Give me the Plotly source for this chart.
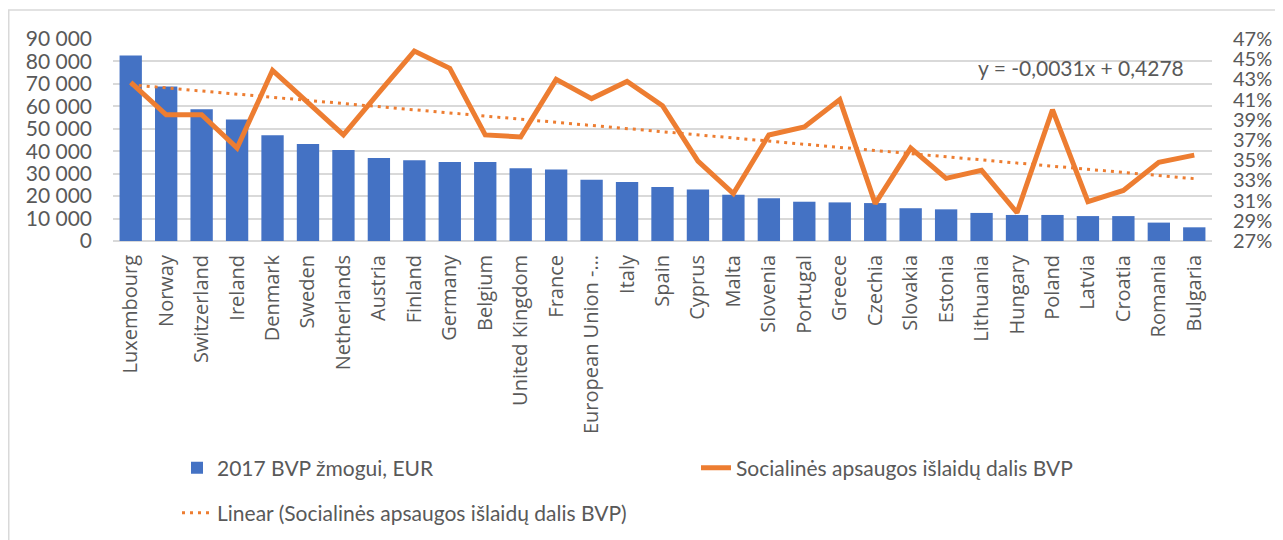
import plotly.graph_objects as go

countries = ["Luxembourg", "Norway", "Switzerland", "Ireland", "Denmark", "Sweden",
             "Netherlands", "Austria", "Finland", "Germany", "Belgium", "United Kingdom",
             "France", "European Union -…", "Italy", "Spain", "Cyprus", "Malta",
             "Slovenia", "Portugal", "Greece", "Czechia", "Slovakia", "Estonia",
             "Lithuania", "Hungary", "Poland", "Latvia", "Croatia", "Romania", "Bulgaria"]

gdp_per_capita = [82600, 68800, 58700, 54100, 47100, 43200, 40500, 37000, 36000, 35200,
                  35200, 32400, 31900, 27300, 26300, 24100, 22900, 20600, 19000, 17500,
                  17200, 16900, 14600, 14100, 12500, 11600, 11600, 11100, 11100, 8200, 6100]

social_share = [0.427, 0.395, 0.395, 0.362, 0.439, 0.407, 0.375, 0.417, 0.458, 0.441,
                0.375, 0.373, 0.430, 0.411, 0.428, 0.404, 0.349, 0.317, 0.375, 0.383,
                0.410, 0.307, 0.362, 0.332, 0.340, 0.298, 0.400, 0.309, 0.320, 0.348, 0.355]

trend_slope = -0.0031
trend_intercept = 0.4278
trend_label = "y = -0,0031x + 0,4278"

left_ticks = [0, 10000, 20000, 30000, 40000, 50000, 60000, 70000, 80000, 90000]
right_ticks = [0.27, 0.29, 0.31, 0.33, 0.35, 0.37, 0.39, 0.41, 0.43, 0.45, 0.47]

trend_values = [trend_slope * (i + 1) + trend_intercept for i in range(len(countries))]

BLUE = "#4472C4"
ORANGE = "#ED7D31"
GREY = "#595959"
GRID = "#D9D9D9"
NUM_FONT = "Lato, Liberation Sans, sans-serif"
CAT_FONT = "Open Sans, sans-serif"

fig = go.Figure()
fig.add_trace(go.Bar(x=countries, y=gdp_per_capita, name="2017 BVP žmogui, EUR",
                     marker=dict(color=BLUE, line=dict(width=0)), legend="legend"))
fig.add_trace(go.Scatter(x=countries, y=social_share, yaxis="y2", mode="lines",
                         name="Socialinės apsaugos išlaidų dalis BVP",
                         line=dict(color=ORANGE, width=5), legend="legend"))
fig.add_trace(go.Scatter(x=countries, y=trend_values, yaxis="y2", mode="lines",
                         name="Linear (Socialinės apsaugos išlaidų dalis BVP)",
                         line=dict(color=ORANGE, width=3, dash="3px,5px"), legend="legend2"))

# page offset (default body margin of the html page)
OFF = 8
W, H = 1283 - OFF, 540 - OFF
# plot area in page pixels
PL, PR, PT, PB = 113, 1212, 39, 241
L = PL - OFF
R = W - (PR - OFF)
T = PT - OFF
B = H - (PB - OFF)
pw, ph = PR - PL, PB - PT

def px_x(x):
    return (x - PL) / pw

def px_y(y):
    return (PB - y) / ph

def cx(x):
    return (x - OFF) / W

def cy(y):
    return 1 - (y - OFF) / H

fig.update_layout(
    width=W, height=H,
    margin=dict(l=L, r=R, t=T, b=B, pad=0, autoexpand=False),
    paper_bgcolor="white", plot_bgcolor="white",
    separators=", ",
    bargap=0.37,
    font=dict(family=NUM_FONT, size=21, color=GREY),
    xaxis=dict(tickangle=-90, tickfont=dict(family=CAT_FONT, size=20, color=GREY),
               showgrid=False, showline=False, ticks="", ticklabelstandoff=9,
               range=[-0.5, len(countries) - 0.5], automargin=False),
    yaxis=dict(range=[0, 90000], tickvals=left_ticks, tickformat=",d",
               showgrid=True, gridcolor=GRID, gridwidth=1.5, zeroline=True,
               zerolinecolor=GRID, zerolinewidth=1.5, showline=False, ticks="",
               ticklabelstandoff=20, tickfont=dict(size=21, color=GREY), automargin=False),
    yaxis2=dict(range=[0.27, 0.47], tickvals=right_ticks, tickformat=".0%",
                overlaying="y", side="right", showgrid=False, zeroline=False,
                showline=False, ticks="", ticklabelstandoff=20,
                tickfont=dict(size=20, color=GREY), automargin=False),
    legend=dict(orientation="h", xref="container", yref="container",
                x=cx(177), y=cy(468), xanchor="left", yanchor="middle",
                entrywidth=474, entrywidthmode="pixels", font=dict(size=21, color=GREY),
                bgcolor="rgba(0,0,0,0)"),
    legend2=dict(orientation="h", xref="container", yref="container",
                 x=cx(177), y=cy(513), xanchor="left", yanchor="middle",
                 font=dict(size=21, color=GREY), bgcolor="rgba(0,0,0,0)"),
    annotations=[dict(text=trend_label, xref="paper", yref="paper", x=px_x(976), y=px_y(67),
                      xanchor="left", yanchor="middle", showarrow=False,
                      font=dict(size=21, color=GREY))],
    shapes=[dict(type="rect", xref="paper", yref="paper", x0=px_x(8.75), y0=px_y(10),
                 x1=px_x(1300), y1=px_y(560), line=dict(color=GRID, width=1.5),
                 fillcolor="rgba(0,0,0,0)", layer="below")],
)

fig.write_html("out.html")
